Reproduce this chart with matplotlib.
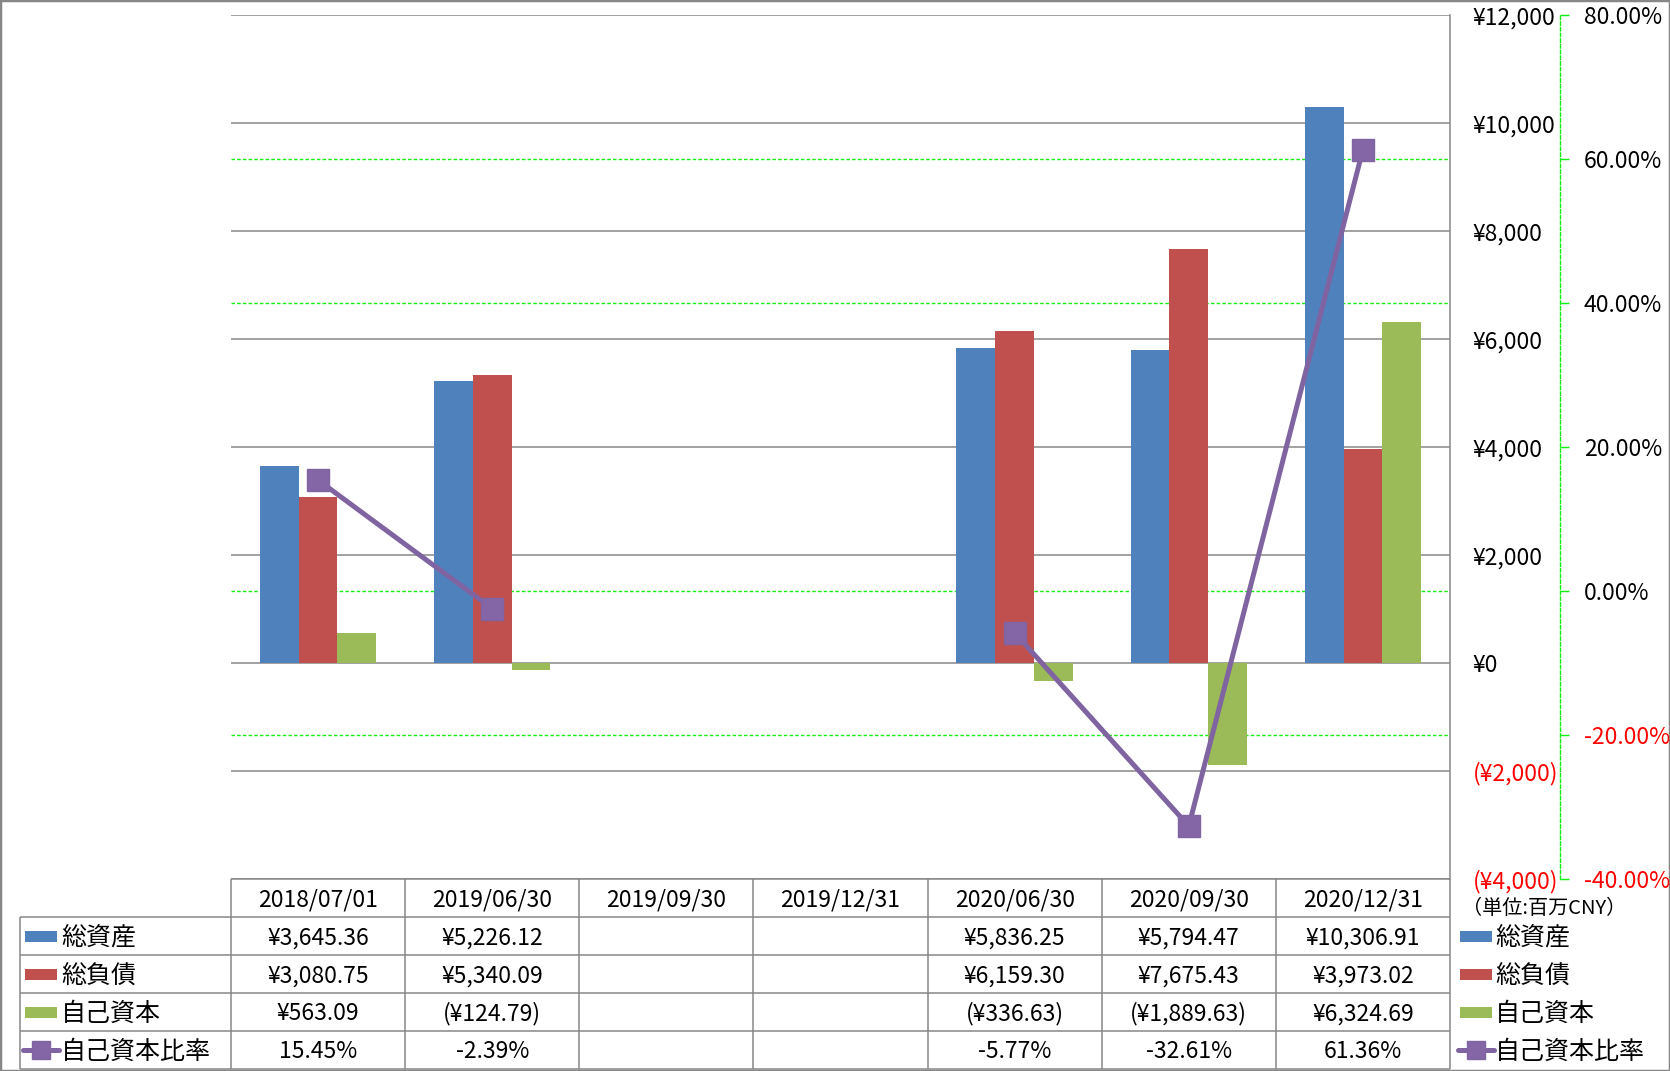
import numpy as np
import matplotlib
matplotlib.use('Agg')
import matplotlib.pyplot as plt
from matplotlib.patches import Rectangle

plt.rcParams['font.family'] = ['Noto Sans CJK JP', 'DejaVu Sans']

# data (百万CNY)
dates = ['2018/07/01', '2019/06/30', '2019/09/30', '2019/12/31',
         '2020/06/30', '2020/09/30', '2020/12/31']
total_assets = [3645.36, 5226.12, np.nan, np.nan, 5836.25, 5794.47, 10306.91]
total_liab = [3080.75, 5340.09, np.nan, np.nan, 6159.30, 7675.43, 3973.02]
equity = [563.09, -124.79, np.nan, np.nan, -336.63, -1889.63, 6324.69]
equity_ratio = [15.45, -2.39, np.nan, np.nan, -5.77, -32.61, 61.36]

series_names = ['総資産', '総負債', '自己資本', '自己資本比率']
colors = ['#4F81BD', '#C0504D', '#9BBB59', '#8064A2']
yen_ticks = np.arange(-4000, 12001, 2000)
pct_ticks = np.arange(-40, 81, 20)
pct_grid = [-20, 0, 40, 60]  # the others sit under the grey grid

gray = '#878787'
green = '#11EE11'
fs = 16.5
fs_jp = 18


def fmt_yen(v, dec=2):
    if np.isnan(v):
        return ''
    s = f'¥{abs(v):,.{dec}f}'
    return f'({s})' if v < 0 else s


def fmt_pct(v):
    return '' if np.isnan(v) else f'{v:.2f}%'


# layout in pixels
W, H = 1670, 1071
pl, pr, pt, pb = 231, 1450, 15.3, 879.3
tl, tb = 20, 1069

fig = plt.figure(figsize=(W / 100, H / 100), dpi=100)
ax = fig.add_axes([pl / W, 1 - pb / H, (pr - pl) / W, (pb - pt) / H])
ax_g = ax.twinx()
ax2 = ax.twinx()
ax_g.set_zorder(0)
ax.set_zorder(1)
ax2.set_zorder(2)
ax.patch.set_visible(False)

x = np.arange(len(dates))
bw = 0.223
for k, vals in enumerate([total_assets, total_liab, equity]):
    ax.bar(x + (k - 1) * bw, vals, width=bw, color=colors[k], zorder=2)
ax.set_xlim(-0.5, len(dates) - 0.5)
ax.set_ylim(-4000, 12000)
ax.set_xticks([])
ax.yaxis.tick_right()
ax.set_yticks(yen_ticks, [fmt_yen(v, 0) for v in yen_ticks])
ax.tick_params(axis='y', length=0, pad=16.5, labelsize=fs)
ax.grid(axis='y', color=gray, lw=1.1)
ax.set_axisbelow(True)
for s in ['left', 'top', 'bottom']:
    ax.spines[s].set_visible(False)
ax.spines['right'].set_color(gray)
ax.spines['right'].set_linewidth(1.1)

# secondary grid (under bars)
ax_g.set_ylim(-40, 80)
ax_g.set_yticks(pct_grid)
ax_g.tick_params(axis='y', right=False, labelright=False, left=False, labelleft=False)
ax_g.grid(axis='y', color=green, lw=1, linestyle=(0, (2.5, 1.6)))
for s in ax_g.spines.values():
    s.set_visible(False)

# ratio line
ax2.plot(x, equity_ratio, color=colors[3], lw=3.6, marker='s', ms=16,
         mfc='#8466A6', mec=colors[3], zorder=3)
ax2.set_ylim(-40, 80)
for s in ['left', 'top', 'bottom']:
    ax2.spines[s].set_visible(False)
ax2.spines['right'].set_position(('outward', 79.2))
ax2.spines['right'].set_color(green)
ax2.spines['right'].set_linestyle((0, (2.5, 1.6)))
ax2.spines['right'].set_linewidth(1)
ax2.set_yticks(pct_ticks, [fmt_pct(v) for v in pct_ticks])
ax2.tick_params(axis='y', length=6.5, width=1, color=green, pad=10.5, labelsize=fs)

# negative axis labels in red
for axis, ticks in [(ax, yen_ticks), (ax2, pct_ticks)]:
    for t, v in zip(axis.yaxis.get_major_ticks(), ticks):
        c = 'red' if v < 0 else 'black'
        t.label1.set_color(c)
        t.label2.set_color(c)

# data table
colw = (pr - pl) / len(dates)
xl = -0.5 - (pl - tl) / colw
xr = -0.5 + (W - pl) / colw
tab = fig.add_axes([tl / W, 1 - tb / H, (W - tl) / W, (tb - pb) / H])
tab.set_xlim(xl, xr)
tab.set_ylim(5, 0)
tab.axis('off')
ncol = len(dates)
tab.hlines(0, -0.5, ncol - 0.5, color=gray, lw=1.1, clip_on=False)
tab.hlines(np.arange(1, 6), xl, ncol - 0.5, color=gray, lw=1.1, clip_on=False)
tab.vlines(xl, 1, 5, color=gray, lw=1.1, clip_on=False)
tab.vlines(np.arange(-0.5, ncol), 0, 5, color=gray, lw=1.1, clip_on=False)

for i, d in enumerate(dates):
    tab.text(i, 0.55, d, ha='center', va='center', fontsize=fs)
rows = [[fmt_yen(v) for v in total_assets],
        [fmt_yen(v) for v in total_liab],
        [fmt_yen(v) for v in equity],
        [fmt_pct(v) for v in equity_ratio]]
for r, row in enumerate(rows):
    for i, s in enumerate(row):
        tab.text(i, r + 1.55, s, ha='center', va='center', fontsize=fs)

# legend keys: left column and right side
kw = 32 / colw
for x0, tx in [(xl + 5 / colw, xl + 41 / colw), (ncol - 0.5 + 10 / colw, ncol - 0.5 + 45 / colw)]:
    for r in range(3):
        tab.add_patch(Rectangle((x0, r + 1.5 - 0.145), kw, 0.29, color=colors[r], lw=0))
    tab.plot([x0 - 2 / colw, x0 + kw + 2 / colw], [4.5, 4.5], color=colors[3], lw=3.6,
             solid_capstyle='round')
    tab.plot([x0 + kw / 2], [4.5], marker='s', ms=13, color=colors[3], mfc='#8466A6')
    for r, name in enumerate(series_names):
        tab.text(tx, r + 1.54, name, ha='left', va='center', fontsize=fs_jp)

tab.text(ncol - 0.5 + 12 / colw, 0.76, '（単位:百万CNY）', ha='left', va='center', fontsize=14.5)

fig.add_artist(Rectangle((0, 0), 1, 1, transform=fig.transFigure, fill=False,
                         ec=gray, lw=2.5))

fig.savefig('out.png', dpi=100)
